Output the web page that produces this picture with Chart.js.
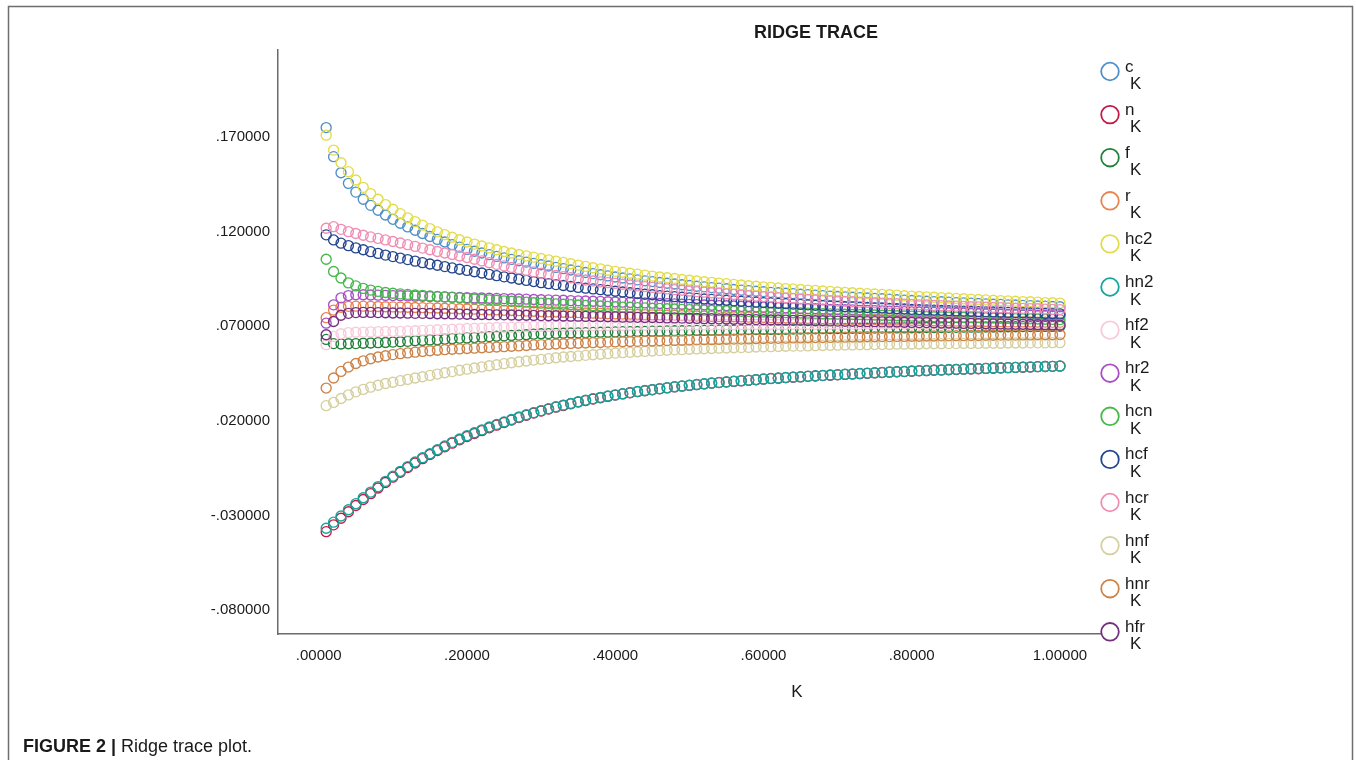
<!DOCTYPE html>
<html lang="en">
<head>
    <meta charset="UTF-8">
    <title>Ridge trace</title>
    <script src="https://cdn.jsdelivr.net/npm/chart.js"></script>
    <style>
        html, body { margin: 0; padding: 0; background: #fff; }
        #wrap { width: 1356px; height: 760px; position: relative; }
    </style>
</head>
<body>
<div id="wrap"><canvas id="ridgeChart" width="1356" height="760"></canvas></div>
<script>
    // ridge parameter K
    const kValues = [
        0.01, 0.02, 0.03, 0.04, 0.05, 0.06, 0.07, 0.08, 0.09, 0.10,
        0.11, 0.12, 0.13, 0.14, 0.15, 0.16, 0.17, 0.18, 0.19, 0.20,
        0.21, 0.22, 0.23, 0.24, 0.25, 0.26, 0.27, 0.28, 0.29, 0.30,
        0.31, 0.32, 0.33, 0.34, 0.35, 0.36, 0.37, 0.38, 0.39, 0.40,
        0.41, 0.42, 0.43, 0.44, 0.45, 0.46, 0.47, 0.48, 0.49, 0.50,
        0.51, 0.52, 0.53, 0.54, 0.55, 0.56, 0.57, 0.58, 0.59, 0.60,
        0.61, 0.62, 0.63, 0.64, 0.65, 0.66, 0.67, 0.68, 0.69, 0.70,
        0.71, 0.72, 0.73, 0.74, 0.75, 0.76, 0.77, 0.78, 0.79, 0.80,
        0.81, 0.82, 0.83, 0.84, 0.85, 0.86, 0.87, 0.88, 0.89, 0.90,
        0.91, 0.92, 0.93, 0.94, 0.95, 0.96, 0.97, 0.98, 0.99, 1.00
    ];

    const traceC = [
        0.1750, 0.1596, 0.1511, 0.1455, 0.1409, 0.1371, 0.1339, 0.1313, 0.1288, 0.1265,
        0.1244, 0.1225, 0.1207, 0.1190, 0.1174, 0.1159, 0.1145, 0.1131, 0.1118, 0.1106,
        0.1096, 0.1087, 0.1078, 0.1069, 0.1061, 0.1053, 0.1046, 0.1039, 0.1032, 0.1025,
        0.1018, 0.1011, 0.1004, 0.0997, 0.0991, 0.0984, 0.0978, 0.0972, 0.0966, 0.0960,
        0.0955, 0.0950, 0.0945, 0.0940, 0.0936, 0.0931, 0.0927, 0.0923, 0.0919, 0.0915,
        0.0911, 0.0908, 0.0904, 0.0901, 0.0898, 0.0894, 0.0891, 0.0888, 0.0885, 0.0882,
        0.0879, 0.0877, 0.0874, 0.0872, 0.0869, 0.0867, 0.0864, 0.0862, 0.0859, 0.0857,
        0.0855, 0.0853, 0.0851, 0.0849, 0.0847, 0.0845, 0.0843, 0.0840, 0.0838, 0.0836,
        0.0834, 0.0832, 0.0830, 0.0829, 0.0827, 0.0825, 0.0823, 0.0822, 0.0820, 0.0818,
        0.0816, 0.0815, 0.0813, 0.0812, 0.0810, 0.0809, 0.0807, 0.0806, 0.0804, 0.0803
    ];
    const traceN = [
        -0.0386, -0.0350, -0.0315, -0.0281, -0.0248, -0.0216, -0.0185, -0.0155, -0.0126, -0.0098,
        -0.0072, -0.0047, -0.0023, 0.0000, 0.0022, 0.0043, 0.0063, 0.0082, 0.0100, 0.0117,
        0.0133, 0.0148, 0.0163, 0.0177, 0.0191, 0.0204, 0.0217, 0.0229, 0.0241, 0.0252,
        0.0262, 0.0272, 0.0281, 0.0290, 0.0299, 0.0307, 0.0315, 0.0322, 0.0329, 0.0336,
        0.0342, 0.0348, 0.0354, 0.0359, 0.0364, 0.0369, 0.0374, 0.0379, 0.0383, 0.0387,
        0.0391, 0.0395, 0.0399, 0.0402, 0.0405, 0.0408, 0.0411, 0.0414, 0.0417, 0.0420,
        0.0423, 0.0425, 0.0428, 0.0430, 0.0432, 0.0435, 0.0437, 0.0439, 0.0441, 0.0443,
        0.0445, 0.0447, 0.0449, 0.0451, 0.0453, 0.0455, 0.0457, 0.0459, 0.0460, 0.0462,
        0.0464, 0.0465, 0.0467, 0.0468, 0.0470, 0.0471, 0.0473, 0.0474, 0.0475, 0.0477,
        0.0478, 0.0479, 0.0481, 0.0482, 0.0483, 0.0484, 0.0486, 0.0487, 0.0488, 0.0489
    ];
    const traceF = [
        0.0630, 0.0608, 0.0606, 0.0607, 0.0608, 0.0610, 0.0611, 0.0613, 0.0614, 0.0616,
        0.0618, 0.0620, 0.0623, 0.0625, 0.0627, 0.0629, 0.0631, 0.0634, 0.0636, 0.0638,
        0.0640, 0.0642, 0.0645, 0.0647, 0.0649, 0.0651, 0.0653, 0.0655, 0.0658, 0.0660,
        0.0661, 0.0662, 0.0663, 0.0664, 0.0665, 0.0666, 0.0667, 0.0668, 0.0669, 0.0670,
        0.0671, 0.0671, 0.0672, 0.0673, 0.0674, 0.0674, 0.0675, 0.0676, 0.0676, 0.0677,
        0.0678, 0.0678, 0.0679, 0.0679, 0.0680, 0.0680, 0.0681, 0.0682, 0.0682, 0.0683,
        0.0683, 0.0684, 0.0684, 0.0685, 0.0685, 0.0686, 0.0686, 0.0687, 0.0687, 0.0688,
        0.0688, 0.0689, 0.0689, 0.0689, 0.0690, 0.0690, 0.0691, 0.0691, 0.0691, 0.0692,
        0.0692, 0.0693, 0.0693, 0.0693, 0.0694, 0.0694, 0.0695, 0.0695, 0.0695, 0.0696,
        0.0696, 0.0697, 0.0697, 0.0697, 0.0698, 0.0698, 0.0699, 0.0699, 0.0699, 0.0700
    ];
    const traceR = [
        0.0745, 0.0785, 0.0800, 0.0805, 0.0806, 0.0806, 0.0805, 0.0804, 0.0803, 0.0802,
        0.0801, 0.0800, 0.0799, 0.0798, 0.0797, 0.0796, 0.0795, 0.0794, 0.0792, 0.0791,
        0.0790, 0.0788, 0.0787, 0.0786, 0.0784, 0.0783, 0.0782, 0.0780, 0.0779, 0.0777,
        0.0776, 0.0775, 0.0774, 0.0773, 0.0772, 0.0770, 0.0769, 0.0768, 0.0766, 0.0765,
        0.0764, 0.0763, 0.0762, 0.0761, 0.0760, 0.0759, 0.0758, 0.0757, 0.0756, 0.0755,
        0.0754, 0.0753, 0.0752, 0.0751, 0.0750, 0.0750, 0.0749, 0.0748, 0.0747, 0.0746,
        0.0745, 0.0744, 0.0744, 0.0743, 0.0742, 0.0741, 0.0740, 0.0740, 0.0739, 0.0738,
        0.0737, 0.0737, 0.0736, 0.0735, 0.0735, 0.0734, 0.0733, 0.0733, 0.0732, 0.0731,
        0.0730, 0.0730, 0.0729, 0.0729, 0.0728, 0.0727, 0.0727, 0.0726, 0.0726, 0.0725,
        0.0724, 0.0724, 0.0723, 0.0723, 0.0722, 0.0722, 0.0721, 0.0721, 0.0720, 0.0720
    ];
    const traceHC2 = [
        0.1710, 0.1631, 0.1564, 0.1517, 0.1473, 0.1434, 0.1401, 0.1371, 0.1343, 0.1318,
        0.1295, 0.1273, 0.1253, 0.1234, 0.1216, 0.1199, 0.1184, 0.1170, 0.1157, 0.1145,
        0.1134, 0.1124, 0.1114, 0.1104, 0.1095, 0.1087, 0.1079, 0.1072, 0.1065, 0.1058,
        0.1051, 0.1044, 0.1037, 0.1030, 0.1023, 0.1016, 0.1009, 0.1003, 0.0996, 0.0990,
        0.0985, 0.0980, 0.0975, 0.0970, 0.0965, 0.0960, 0.0956, 0.0952, 0.0947, 0.0943,
        0.0939, 0.0935, 0.0932, 0.0928, 0.0925, 0.0921, 0.0918, 0.0914, 0.0911, 0.0908,
        0.0905, 0.0902, 0.0899, 0.0897, 0.0894, 0.0891, 0.0889, 0.0886, 0.0884, 0.0881,
        0.0879, 0.0877, 0.0874, 0.0872, 0.0870, 0.0868, 0.0866, 0.0864, 0.0861, 0.0859,
        0.0857, 0.0855, 0.0853, 0.0851, 0.0849, 0.0847, 0.0845, 0.0843, 0.0841, 0.0839,
        0.0837, 0.0835, 0.0834, 0.0832, 0.0830, 0.0829, 0.0827, 0.0825, 0.0824, 0.0822
    ];
    const traceHN2 = [
        -0.0368, -0.0336, -0.0303, -0.0270, -0.0238, -0.0207, -0.0177, -0.0148, -0.0120, -0.0093,
        -0.0067, -0.0042, -0.0018, 0.0005, 0.0026, 0.0047, 0.0067, 0.0086, 0.0104, 0.0121,
        0.0137, 0.0152, 0.0167, 0.0181, 0.0194, 0.0207, 0.0220, 0.0232, 0.0243, 0.0254,
        0.0264, 0.0274, 0.0283, 0.0292, 0.0301, 0.0309, 0.0317, 0.0324, 0.0331, 0.0337,
        0.0343, 0.0349, 0.0355, 0.0360, 0.0365, 0.0370, 0.0375, 0.0380, 0.0384, 0.0388,
        0.0392, 0.0396, 0.0400, 0.0403, 0.0406, 0.0409, 0.0412, 0.0415, 0.0418, 0.0421,
        0.0424, 0.0426, 0.0429, 0.0431, 0.0433, 0.0436, 0.0438, 0.0440, 0.0442, 0.0444,
        0.0446, 0.0448, 0.0450, 0.0452, 0.0454, 0.0456, 0.0458, 0.0459, 0.0461, 0.0463,
        0.0465, 0.0466, 0.0468, 0.0469, 0.0471, 0.0472, 0.0473, 0.0475, 0.0476, 0.0477,
        0.0479, 0.0480, 0.0481, 0.0482, 0.0484, 0.0485, 0.0486, 0.0487, 0.0488, 0.0490
    ];
    const traceHF2 = [
        0.0602, 0.0646, 0.0660, 0.0666, 0.0668, 0.0669, 0.0670, 0.0671, 0.0672, 0.0672,
        0.0673, 0.0675, 0.0676, 0.0678, 0.0679, 0.0681, 0.0683, 0.0684, 0.0686, 0.0688,
        0.0689, 0.0690, 0.0692, 0.0693, 0.0694, 0.0695, 0.0696, 0.0697, 0.0699, 0.0700,
        0.0700, 0.0701, 0.0701, 0.0702, 0.0702, 0.0702, 0.0703, 0.0703, 0.0704, 0.0704,
        0.0704, 0.0705, 0.0705, 0.0705, 0.0706, 0.0706, 0.0706, 0.0706, 0.0707, 0.0707,
        0.0707, 0.0707, 0.0707, 0.0708, 0.0708, 0.0708, 0.0708, 0.0709, 0.0709, 0.0709,
        0.0709, 0.0709, 0.0709, 0.0710, 0.0710, 0.0710, 0.0710, 0.0711, 0.0711, 0.0711,
        0.0711, 0.0711, 0.0711, 0.0712, 0.0712, 0.0712, 0.0712, 0.0713, 0.0713, 0.0713,
        0.0713, 0.0713, 0.0713, 0.0713, 0.0713, 0.0714, 0.0714, 0.0714, 0.0714, 0.0714,
        0.0714, 0.0714, 0.0714, 0.0714, 0.0715, 0.0715, 0.0715, 0.0715, 0.0715, 0.0715
    ];
    const traceHR2 = [
        0.0716, 0.0813, 0.0850, 0.0862, 0.0866, 0.0866, 0.0865, 0.0864, 0.0863, 0.0862,
        0.0861, 0.0860, 0.0859, 0.0858, 0.0857, 0.0856, 0.0855, 0.0854, 0.0852, 0.0851,
        0.0850, 0.0849, 0.0848, 0.0847, 0.0846, 0.0845, 0.0844, 0.0843, 0.0841, 0.0840,
        0.0839, 0.0838, 0.0837, 0.0835, 0.0834, 0.0833, 0.0832, 0.0831, 0.0829, 0.0828,
        0.0827, 0.0826, 0.0824, 0.0823, 0.0822, 0.0820, 0.0819, 0.0818, 0.0816, 0.0815,
        0.0814, 0.0812, 0.0811, 0.0809, 0.0808, 0.0807, 0.0805, 0.0804, 0.0802, 0.0801,
        0.0800, 0.0798, 0.0797, 0.0796, 0.0794, 0.0793, 0.0792, 0.0790, 0.0789, 0.0788,
        0.0787, 0.0786, 0.0784, 0.0783, 0.0782, 0.0781, 0.0780, 0.0778, 0.0777, 0.0776,
        0.0775, 0.0774, 0.0773, 0.0772, 0.0771, 0.0770, 0.0769, 0.0767, 0.0766, 0.0765,
        0.0764, 0.0763, 0.0762, 0.0761, 0.0760, 0.0759, 0.0758, 0.0757, 0.0756, 0.0755
    ];
    const traceHCN = [
        0.1054, 0.0989, 0.0955, 0.0929, 0.0913, 0.0900, 0.0891, 0.0884, 0.0878, 0.0874,
        0.0871, 0.0868, 0.0865, 0.0863, 0.0860, 0.0857, 0.0855, 0.0852, 0.0850, 0.0847,
        0.0844, 0.0842, 0.0839, 0.0837, 0.0834, 0.0832, 0.0829, 0.0827, 0.0824, 0.0822,
        0.0820, 0.0818, 0.0816, 0.0814, 0.0812, 0.0810, 0.0808, 0.0807, 0.0805, 0.0803,
        0.0801, 0.0800, 0.0798, 0.0797, 0.0795, 0.0794, 0.0792, 0.0791, 0.0789, 0.0788,
        0.0787, 0.0785, 0.0784, 0.0783, 0.0781, 0.0780, 0.0779, 0.0778, 0.0776, 0.0775,
        0.0774, 0.0773, 0.0772, 0.0771, 0.0770, 0.0769, 0.0768, 0.0766, 0.0765, 0.0764,
        0.0763, 0.0762, 0.0761, 0.0760, 0.0759, 0.0758, 0.0757, 0.0755, 0.0754, 0.0753,
        0.0752, 0.0751, 0.0750, 0.0749, 0.0748, 0.0748, 0.0747, 0.0746, 0.0745, 0.0744,
        0.0743, 0.0742, 0.0741, 0.0740, 0.0739, 0.0739, 0.0738, 0.0737, 0.0736, 0.0735
    ];
    const traceHCF = [
        0.1183, 0.1156, 0.1139, 0.1126, 0.1114, 0.1104, 0.1094, 0.1085, 0.1076, 0.1068,
        0.1060, 0.1052, 0.1044, 0.1036, 0.1029, 0.1022, 0.1015, 0.1008, 0.1001, 0.0995,
        0.0988, 0.0981, 0.0974, 0.0967, 0.0961, 0.0955, 0.0948, 0.0942, 0.0936, 0.0930,
        0.0925, 0.0920, 0.0915, 0.0910, 0.0905, 0.0901, 0.0897, 0.0893, 0.0889, 0.0885,
        0.0881, 0.0877, 0.0873, 0.0869, 0.0866, 0.0862, 0.0859, 0.0856, 0.0853, 0.0850,
        0.0847, 0.0844, 0.0842, 0.0839, 0.0837, 0.0834, 0.0832, 0.0830, 0.0827, 0.0825,
        0.0823, 0.0821, 0.0819, 0.0817, 0.0815, 0.0813, 0.0811, 0.0809, 0.0807, 0.0805,
        0.0803, 0.0802, 0.0800, 0.0799, 0.0797, 0.0796, 0.0794, 0.0792, 0.0791, 0.0789,
        0.0788, 0.0786, 0.0785, 0.0784, 0.0782, 0.0781, 0.0780, 0.0779, 0.0777, 0.0776,
        0.0775, 0.0774, 0.0773, 0.0772, 0.0771, 0.0770, 0.0769, 0.0767, 0.0766, 0.0765
    ];
    const traceHCR = [
        0.1218, 0.1226, 0.1212, 0.1200, 0.1190, 0.1181, 0.1172, 0.1164, 0.1156, 0.1148,
        0.1140, 0.1131, 0.1122, 0.1113, 0.1104, 0.1095, 0.1087, 0.1079, 0.1071, 0.1063,
        0.1054, 0.1045, 0.1036, 0.1027, 0.1019, 0.1011, 0.1003, 0.0995, 0.0987, 0.0980,
        0.0974, 0.0968, 0.0962, 0.0956, 0.0950, 0.0944, 0.0939, 0.0934, 0.0930, 0.0926,
        0.0922, 0.0918, 0.0913, 0.0909, 0.0905, 0.0901, 0.0897, 0.0893, 0.0890, 0.0886,
        0.0883, 0.0880, 0.0877, 0.0874, 0.0871, 0.0868, 0.0865, 0.0862, 0.0859, 0.0856,
        0.0854, 0.0851, 0.0849, 0.0847, 0.0844, 0.0842, 0.0840, 0.0838, 0.0835, 0.0833,
        0.0831, 0.0829, 0.0827, 0.0826, 0.0824, 0.0822, 0.0820, 0.0819, 0.0817, 0.0815,
        0.0813, 0.0812, 0.0810, 0.0809, 0.0807, 0.0806, 0.0805, 0.0803, 0.0802, 0.0800,
        0.0799, 0.0798, 0.0796, 0.0795, 0.0794, 0.0793, 0.0792, 0.0790, 0.0789, 0.0788
    ];
    const traceHNF = [
        0.0280, 0.0297, 0.0318, 0.0337, 0.0353, 0.0366, 0.0378, 0.0388, 0.0397, 0.0404,
        0.0412, 0.0419, 0.0426, 0.0433, 0.0440, 0.0447, 0.0454, 0.0460, 0.0467, 0.0473,
        0.0479, 0.0485, 0.0491, 0.0496, 0.0502, 0.0507, 0.0512, 0.0516, 0.0521, 0.0525,
        0.0529, 0.0533, 0.0537, 0.0540, 0.0543, 0.0546, 0.0549, 0.0552, 0.0555, 0.0558,
        0.0560, 0.0562, 0.0565, 0.0567, 0.0569, 0.0571, 0.0573, 0.0575, 0.0576, 0.0578,
        0.0580, 0.0581, 0.0582, 0.0584, 0.0585, 0.0586, 0.0587, 0.0588, 0.0590, 0.0591,
        0.0592, 0.0593, 0.0594, 0.0595, 0.0595, 0.0596, 0.0597, 0.0598, 0.0599, 0.0600,
        0.0601, 0.0601, 0.0602, 0.0602, 0.0603, 0.0603, 0.0604, 0.0605, 0.0605, 0.0606,
        0.0606, 0.0607, 0.0607, 0.0607, 0.0608, 0.0608, 0.0609, 0.0609, 0.0609, 0.0610,
        0.0610, 0.0610, 0.0611, 0.0611, 0.0611, 0.0612, 0.0612, 0.0612, 0.0613, 0.0613
    ];
    const traceHNR = [
        0.0373, 0.0426, 0.0461, 0.0484, 0.0503, 0.0517, 0.0528, 0.0537, 0.0544, 0.0550,
        0.0555, 0.0559, 0.0563, 0.0567, 0.0570, 0.0573, 0.0576, 0.0578, 0.0580, 0.0582,
        0.0584, 0.0586, 0.0588, 0.0590, 0.0592, 0.0594, 0.0596, 0.0598, 0.0601, 0.0603,
        0.0604, 0.0606, 0.0607, 0.0609, 0.0610, 0.0611, 0.0613, 0.0614, 0.0616, 0.0617,
        0.0618, 0.0619, 0.0620, 0.0621, 0.0622, 0.0623, 0.0624, 0.0625, 0.0626, 0.0627,
        0.0628, 0.0629, 0.0629, 0.0630, 0.0631, 0.0632, 0.0632, 0.0633, 0.0634, 0.0635,
        0.0636, 0.0636, 0.0637, 0.0638, 0.0638, 0.0639, 0.0640, 0.0640, 0.0641, 0.0642,
        0.0642, 0.0643, 0.0643, 0.0644, 0.0644, 0.0645, 0.0645, 0.0646, 0.0646, 0.0647,
        0.0647, 0.0648, 0.0648, 0.0649, 0.0649, 0.0650, 0.0650, 0.0651, 0.0651, 0.0652,
        0.0652, 0.0653, 0.0653, 0.0653, 0.0654, 0.0654, 0.0655, 0.0655, 0.0655, 0.0656
    ];
    const traceHFR = [
        0.0655, 0.0725, 0.0758, 0.0768, 0.0772, 0.0773, 0.0773, 0.0772, 0.0771, 0.0770,
        0.0770, 0.0769, 0.0768, 0.0768, 0.0767, 0.0766, 0.0766, 0.0765, 0.0764, 0.0763,
        0.0762, 0.0762, 0.0761, 0.0760, 0.0760, 0.0759, 0.0758, 0.0758, 0.0757, 0.0756,
        0.0755, 0.0755, 0.0754, 0.0753, 0.0753, 0.0752, 0.0751, 0.0751, 0.0750, 0.0749,
        0.0748, 0.0748, 0.0747, 0.0746, 0.0746, 0.0745, 0.0744, 0.0744, 0.0743, 0.0742,
        0.0741, 0.0740, 0.0740, 0.0739, 0.0738, 0.0737, 0.0737, 0.0736, 0.0735, 0.0734,
        0.0733, 0.0733, 0.0732, 0.0731, 0.0731, 0.0730, 0.0729, 0.0729, 0.0728, 0.0727,
        0.0726, 0.0726, 0.0725, 0.0724, 0.0724, 0.0723, 0.0722, 0.0722, 0.0721, 0.0720,
        0.0719, 0.0719, 0.0718, 0.0717, 0.0717, 0.0716, 0.0715, 0.0715, 0.0714, 0.0713,
        0.0712, 0.0712, 0.0711, 0.0710, 0.0710, 0.0709, 0.0708, 0.0708, 0.0707, 0.0706
    ];

    const seriesNames = ['c', 'n', 'f', 'r', 'hc2', 'hn2', 'hf2', 'hr2', 'hcn', 'hcf', 'hcr', 'hnf', 'hnr', 'hfr'];
    const seriesValues = [traceC, traceN, traceF, traceR, traceHC2, traceHN2, traceHF2, traceHR2,
                          traceHCN, traceHCF, traceHCR, traceHNF, traceHNR, traceHFR];
    const seriesColors = ['#4f8fca', '#c21a44', '#20803a', '#e8824e', '#e3dc4a', '#14a69c', '#f9c9dc',
                          '#a94fc5', '#46b94c', '#24468e', '#f08db4', '#d5cf9e', '#cd8348', '#742f80'];

    const xTicks = [0, 0.2, 0.4, 0.6, 0.8, 1.0];
    const yTicks = [-0.08, -0.03, 0.02, 0.07, 0.12, 0.17];

    const FONT = "'Liberation Sans', Arial, sans-serif";

    // SPSS style number: leading zero dropped (.170000, -.030000)
    const spssNum = (v, digits) => {
        const s = Math.abs(v).toFixed(digits);
        const t = s.startsWith('0.') ? s.slice(1) : s;
        return (v < 0 ? '-' : '') + t;
    };

    // frame, title, axis title, legend and caption
    const decorPlugin = {
        id: 'decor',
        beforeDraw(chart) {
            const ctx = chart.ctx;
            ctx.save();
            ctx.fillStyle = '#fff';
            ctx.fillRect(0, 0, chart.width, chart.height);
            ctx.strokeStyle = '#6e6e6e';
            ctx.lineWidth = 1.5;
            ctx.beginPath();
            ctx.moveTo(8.5, 760);
            ctx.lineTo(8.5, 6.5);
            ctx.lineTo(1352.5, 6.5);
            ctx.lineTo(1352.5, 760);
            ctx.stroke();
            ctx.restore();
        },
        afterDraw(chart) {
            const ctx = chart.ctx;
            ctx.save();
            ctx.fillStyle = '#1a1a1a';
            ctx.textBaseline = 'alphabetic';

            ctx.font = `bold 18px ${FONT}`;
            ctx.textAlign = 'center';
            ctx.fillText('RIDGE TRACE', 816, 38);

            ctx.font = `17px ${FONT}`;
            ctx.fillText('K', 797, 697);

            // legend
            ctx.textAlign = 'left';
            seriesNames.forEach((name, i) => {
                const cy = 71.5 + i * 43.1;
                ctx.strokeStyle = seriesColors[i];
                ctx.lineWidth = 1.8;
                ctx.beginPath();
                ctx.arc(1110, cy, 8.8, 0, Math.PI * 2);
                ctx.stroke();
                ctx.fillStyle = '#1a1a1a';
                ctx.font = `17px ${FONT}`;
                ctx.fillText(name, 1125, cy);
                ctx.fillText('K', 1130, cy + 17.5);
            });

            // caption
            ctx.font = `bold 18px ${FONT}`;
            const lead = 'FIGURE 2 | ';
            ctx.fillText(lead, 23, 752);
            const w = ctx.measureText(lead).width;
            ctx.font = `18px ${FONT}`;
            ctx.fillText('Ridge trace plot.', 23 + w, 752);
            ctx.restore();
        }
    };

    const datasets = seriesNames.map((name, i) => ({
        label: name,
        data: kValues.map((k, j) => ({ x: k, y: seriesValues[i][j] })),
        borderColor: seriesColors[i],
        backgroundColor: 'rgba(0,0,0,0)',
        pointStyle: 'circle',
        pointRadius: 5,
        pointBorderWidth: 1.35,
        showLine: false,
        order: seriesNames.length - i
    }));

    new Chart(document.getElementById('ridgeChart'), {
        type: 'scatter',
        data: { datasets },
        plugins: [decorPlugin],
        options: {
            responsive: false,
            animation: false,
            devicePixelRatio: 1,
            layout: { padding: { left: 0, right: 256, top: 50, bottom: 0 } },
            plugins: { legend: { display: false }, tooltip: { enabled: false }, title: { display: false } },
            scales: {
                x: {
                    type: 'linear',
                    min: -0.055,
                    max: 1.054,
                    afterBuildTicks: (scale) => { scale.ticks = xTicks.map(v => ({ value: v })); },
                    afterFit: (scale) => { scale.height = 126; },
                    grid: { display: false, drawTicks: false },
                    border: { display: true, color: '#6b6b6b', width: 1.5 },
                    ticks: {
                        padding: 13,
                        maxRotation: 0,
                        autoSkip: false,
                        color: '#1a1a1a',
                        font: { family: FONT, size: 15 },
                        callback: (v) => spssNum(v, 5)
                    }
                },
                y: {
                    min: -0.0927,
                    max: 0.216,
                    afterBuildTicks: (scale) => { scale.ticks = yTicks.map(v => ({ value: v })); },
                    afterFit: (scale) => { scale.width = 278; },
                    grid: { display: false, drawTicks: false },
                    border: { display: true, color: '#6b6b6b', width: 1.5 },
                    ticks: {
                        padding: 8,
                        autoSkip: false,
                        color: '#1a1a1a',
                        font: { family: FONT, size: 15 },
                        callback: (v) => spssNum(v, 6)
                    }
                }
            }
        }
    });
</script>
</body>
</html>
